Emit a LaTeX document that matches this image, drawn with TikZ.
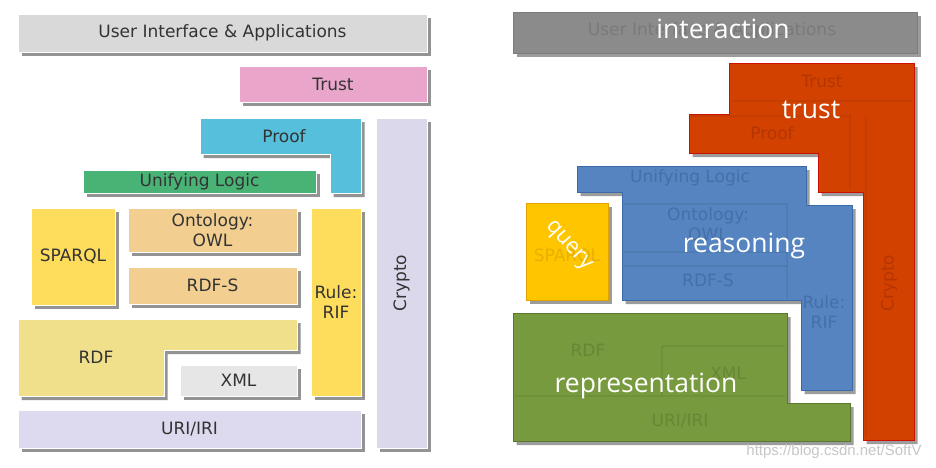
\documentclass[tikz,border=0pt]{standalone}
\usepackage{fontspec}
\setmainfont{DejaVu Sans}
\newfontfamily\labelfont{Open Sans}
\newfontfamily\webfont{Liberation Sans}
\usetikzlibrary{shadows}

% цвета левой схемы
\definecolor{cUI}{HTML}{D9D9D9}
\definecolor{cTrust}{HTML}{EAA6CA}
\definecolor{cProof}{HTML}{56C0DC}
\definecolor{cCrypto}{HTML}{DCD8EC}
\definecolor{cLogic}{HTML}{49B376}
\definecolor{cSparql}{HTML}{FEDC5C}
\definecolor{cOwl}{HTML}{F2CF90}
\definecolor{cRdf}{HTML}{F0E08C}
\definecolor{cXml}{HTML}{E6E6E6}
\definecolor{cUri}{HTML}{DDD9EE}
\definecolor{cText}{HTML}{333333}
% цвета правой схемы
\definecolor{gGray}{HTML}{8B8B8B}
\definecolor{gGrayT}{HTML}{7A7A7A}
\definecolor{gRed}{HTML}{D24100}
\definecolor{gRedB}{HTML}{CC1100}
\definecolor{gRedT}{HTML}{B53500}
\definecolor{gBlue}{HTML}{5684C0}
\definecolor{gBlueB}{HTML}{3B6AA8}
\definecolor{gBlueT}{HTML}{4470AA}
\definecolor{gYellow}{HTML}{FFC600}
\definecolor{gYellowB}{HTML}{E0A200}
\definecolor{gYellowT}{HTML}{E8B000}
\definecolor{gGreen}{HTML}{789A3E}
\definecolor{gGreenB}{HTML}{5B782C}
\definecolor{gGreenT}{HTML}{678735}

\tikzset{
  layer/.style={draw=white, line width=0.6pt,
    drop shadow={shadow xshift=3.5pt, shadow yshift=-4pt, fill=black!70, opacity=0.6}},
  group/.style={line width=0.9pt,
    drop shadow={shadow xshift=3.5pt, shadow yshift=-4pt, fill=black!70, opacity=0.55}},
  tag/.style={text=cText, font=\fontsize{17}{20}\selectfont, align=center},
  ghost/.style={font=\fontsize{17}{20}\selectfont, align=center},
  seam/.style={draw=black, opacity=0.06, line width=2pt},
  big/.style={text=white, font=\labelfont\fontsize{26.5}{30}\selectfont}
}

\begin{document}
\begin{tikzpicture}[x=1pt, y=-1pt]
  \fill[white] (0,0) rectangle (936,467);
  \useasboundingbox (0,0) rectangle (936,467);

  % ===== Левая схема: слои семантической паутины =====
  \draw[layer, fill=cUI] (18,14) rectangle (427,52)
    node[midway, tag] (ui) {User Interface \& Applications};
  \draw[layer, fill=cTrust] (239,66) rectangle (427,102)
    node[midway, tag] (trust) {Trust};
  \draw[layer, fill=cCrypto] (376,118) rectangle (427,448)
    node[midway, tag, rotate=90] (crypto) {Crypto};

  % Proof (уголок)
  \draw[layer, fill=cProof] (200,118) -- (361,118) -- (361,193) -- (330,193)
    -- (330,154) -- (200,154) -- cycle;
  \node[tag] (proof) at (284,136) {Proof};

  \draw[layer, fill=cLogic] (83,170) rectangle (316,193)
    node[midway, tag] (logic) {Unifying Logic};
  \draw[layer, fill=cSparql] (31,208) rectangle (115,305)
    node[midway, tag] (sparql) {SPARQL};
  \draw[layer, fill=cOwl] (128,208) rectangle (297,252)
    node[midway, tag] (owl) {Ontology:\\OWL};
  \draw[layer, fill=cOwl] (128,267) rectangle (297,304)
    node[midway, tag] (rdfs) {RDF-S};
  \draw[layer, fill=cSparql] (311,208) rectangle (361,396)
    node[midway, tag] (rif) {Rule:\\RIF};

  % RDF (уголок)
  \draw[layer, fill=cRdf] (18,319) -- (297,319) -- (297,350) -- (164,350)
    -- (164,396) -- (18,396) -- cycle;
  \node[tag] (rdf) at (96,357) {RDF};

  \draw[layer, fill=cXml] (180,365) rectangle (297,396)
    node[midway, tag] (xml) {XML};
  \draw[layer, fill=cUri] (18,410) rectangle (361,448)
    node[midway, tag] (uri) {URI/IRI};

  % ===== Правая схема: те же слои, сгруппированные =====
  % interaction
  \draw[group, draw=gGray!90!black, fill=gGray] (513,12) rectangle (917,53);
  \node[ghost, text=gGrayT] (uiG) at (712,31) {User Interface \& Applications};
  \node[big] (interaction) at (723,29) {interaction};

  % trust
  \draw[group, draw=gRedB, fill=gRed] (729,63) -- (914,63) -- (914,440)
    -- (863,440) -- (863,192) -- (818,192) -- (818,153) -- (689,153)
    -- (689,114) -- (729,114) -- cycle;
  \draw[seam] (731,101) -- (912,101);
  \draw[seam] (691,116) -- (850,116) -- (850,190);
  \draw[seam] (866,117) -- (866,437);
  \node[ghost, text=gRedT] (trustG) at (822,81) {Trust};
  \node[ghost, text=gRedT] (proofG) at (772,133) {Proof};
  \node[ghost, text=gRedT, rotate=90] (cryptoG) at (889,283) {Crypto};
  \node[big] (trustB) at (811,110) {trust};

  % reasoning
  \draw[group, draw=gBlueB, fill=gBlue] (577,166) -- (806,166) -- (806,205)
    -- (852,205) -- (852,390) -- (801,390) -- (801,300) -- (622,300)
    -- (622,192) -- (577,192) -- cycle;
  \draw[seam] (624,204) -- (787,204) -- (787,298);
  \draw[seam] (624,252) -- (787,252);
  \draw[seam] (624,266) -- (787,266);
  \node[ghost, text=gBlueT] (logicG) at (690,178) {Unifying Logic};
  \node[ghost, text=gBlueT] (owlG) at (708,224) {Ontology:\\OWL};
  \node[ghost, text=gBlueT] (rdfsG) at (708,280) {RDF-S};
  \node[ghost, text=gBlueT] (rifG) at (824,312) {Rule:\\RIF};
  \node[big] (reasoning) at (744,246) {reasoning};

  % query
  \draw[group, draw=gYellowB, fill=gYellow] (526,203) rectangle (608,300);
  \node[ghost, text=gYellowT] (sparqlG) at (567,256) {SPARQL};
  \node[big, rotate=-48, font=\labelfont\fontsize{22}{24}\selectfont] (query) at (568,246) {query};

  % representation
  \draw[group, draw=gGreenB, fill=gGreen] (513,313) -- (787,313) -- (787,403)
    -- (850,403) -- (850,441) -- (513,441) -- cycle;
  \draw[seam] (662,346) -- (785,346);
  \draw[seam] (662,346) -- (662,396);
  \draw[seam] (515,396) -- (785,396);
  \node[ghost, text=gGreenT] (rdfG) at (588,350) {RDF};
  \node[ghost, text=gGreenT] (xmlG) at (728,373) {XML};
  \node[ghost, text=gGreenT] (uriG) at (680,421) {URI/IRI};
  \node[big] (representation) at (646,386) {representation};

  % подпись источника
  \node[text=black!22, font=\webfont\fontsize{15}{17}\selectfont] (src) at (834,452)
    {https://blog.csdn.net/SoftV};
\end{tikzpicture}
\end{document}
